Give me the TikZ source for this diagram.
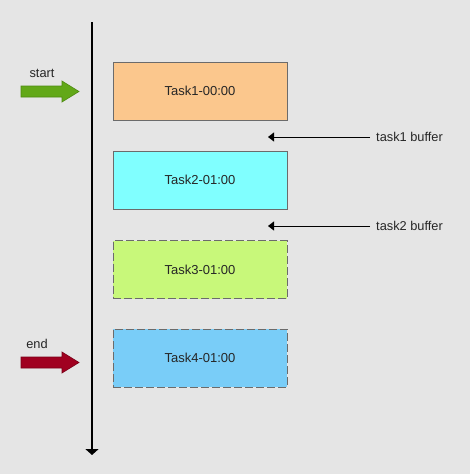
\documentclass[tikz,border=0pt]{standalone}
\usepackage{fontspec}
\setmainfont{Liberation Sans}
\usetikzlibrary{arrows.meta}
\definecolor{bg}{HTML}{E5E5E5}
\definecolor{bordergray}{HTML}{6B6B6B}
\definecolor{taskone}{HTML}{FBC78D}
\definecolor{tasktwo}{HTML}{80FFFF}
\definecolor{taskthree}{HTML}{C8F87A}
\definecolor{taskfour}{HTML}{79CDF8}
\definecolor{startgreen}{HTML}{62A818}
\definecolor{startstroke}{HTML}{4E8A12}
\definecolor{endred}{HTML}{A00020}
\definecolor{endstroke}{HTML}{7A0018}
\tikzset{
  taskbox/.style={draw=bordergray, line width=1pt, minimum width=174pt, minimum height=58pt, inner sep=0pt, font=\fontsize{13}{15}\selectfont, text=black!85},
  dashbox/.style={taskbox, dash pattern=on 8pt off 3pt},
  lbl/.style={font=\fontsize{12.8}{14}\selectfont, inner sep=0pt, text=black!85},
  buf/.style={line width=1pt, -{Triangle[width=9pt,length=6pt]}},
}
\begin{document}
\begin{tikzpicture}[x=1pt,y=-1pt]
\fill[bg] (0,0) rectangle (470,474);
\useasboundingbox (0,0) rectangle (470,474);
% timeline
\coordinate (ttop) at (92,22);
\coordinate (tbot) at (92,455);
\draw[line width=2pt, -{Triangle[width=13pt,length=6pt]}] (ttop) -- (tbot);
% tasks
\node[taskbox, fill=taskone] (t1) at (200,91) {Task1-00:00};
\node[taskbox, fill=tasktwo] (t2) at (200,180) {Task2-01:00};
\node[dashbox, fill=taskthree] (t3) at (200,269.5) {Task3-01:00};
\node[dashbox, fill=taskfour] (t4) at (200,358) {Task4-01:00};
% buffers
\node[lbl, anchor=west] (b1) at (376,137) {task1 buffer};
\node[lbl, anchor=west] (b2) at (376,226) {task2 buffer};
\coordinate (b1s) at (370,137);
\coordinate (b1e) at (268,137);
\coordinate (b2s) at (370,226);
\coordinate (b2e) at (268,226);
\draw[buf] (b1s) -- (b1e);
\draw[buf] (b2s) -- (b2e);
% start arrow
\node[lbl] (st) at (42,73) {start};
\filldraw[fill=startgreen, draw=startstroke, line width=0.6pt, line join=miter]
  (21,86) -- (62,86) -- (62,81) -- (79,91.5) -- (62,102) -- (62,97) -- (21,97) -- cycle;
% end arrow
\node[lbl] (en) at (37,344) {end};
\filldraw[fill=endred, draw=endstroke, line width=0.6pt, line join=miter]
  (21,357) -- (62,357) -- (62,352) -- (79,362.5) -- (62,373) -- (62,368) -- (21,368) -- cycle;
\end{tikzpicture}
\end{document}
